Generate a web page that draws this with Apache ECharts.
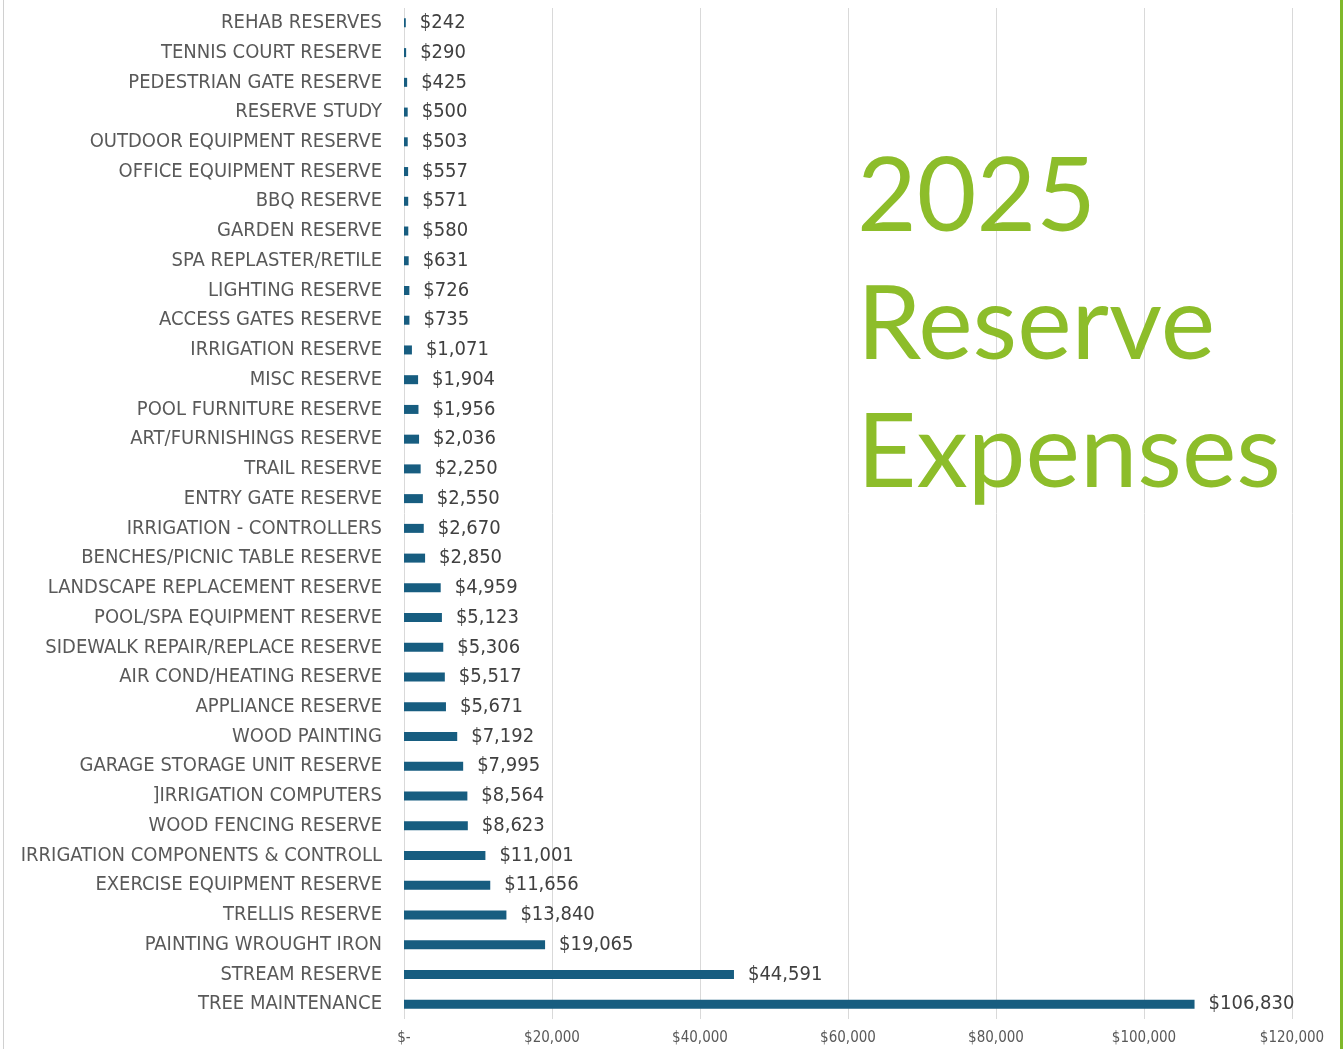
<!DOCTYPE html>
<html><head><meta charset="utf-8">
<script src="https://cdn.jsdelivr.net/npm/echarts@6/dist/echarts.min.js"></script>
<style>html,body{margin:0;padding:0;background:#fff}#c{width:1343px;height:1049px}</style>
</head><body><div id="c"></div>
<script>
const categories = ["REHAB RESERVES","TENNIS COURT RESERVE","PEDESTRIAN GATE RESERVE","RESERVE STUDY","OUTDOOR EQUIPMENT RESERVE","OFFICE EQUIPMENT RESERVE","BBQ RESERVE","GARDEN RESERVE","SPA REPLASTER/RETILE","LIGHTING RESERVE","ACCESS GATES RESERVE","IRRIGATION RESERVE","MISC RESERVE","POOL FURNITURE RESERVE","ART/FURNISHINGS RESERVE","TRAIL RESERVE","ENTRY GATE RESERVE","IRRIGATION - CONTROLLERS","BENCHES/PICNIC TABLE RESERVE","LANDSCAPE REPLACEMENT RESERVE","POOL/SPA EQUIPMENT RESERVE","SIDEWALK REPAIR/REPLACE RESERVE","AIR COND/HEATING RESERVE","APPLIANCE RESERVE","WOOD PAINTING","GARAGE STORAGE UNIT RESERVE","]IRRIGATION COMPUTERS","WOOD FENCING RESERVE","IRRIGATION COMPONENTS & CONTROLL","EXERCISE EQUIPMENT RESERVE","TRELLIS RESERVE","PAINTING WROUGHT IRON","STREAM RESERVE","TREE MAINTENANCE"];
const values = [242,290,425,500,503,557,571,580,631,726,735,1071,1904,1956,2036,2250,2550,2670,2850,4959,5123,5306,5517,5671,7192,7995,8564,8623,11001,11656,13840,19065,44591,106830];
const xTicks = [0,20000,40000,60000,80000,100000,120000];
const titleLines = ["2025","Reserve","Expenses"];

const fmt = v => '$' + v.toLocaleString('en-US');
const narrow = '"Liberation Sans Narrow","DejaVu Sans Condensed",sans-serif';
const chart = echarts.init(document.getElementById('c'));
chart.setOption({
  animation:false,
  grid:{left:404,right:51,top:8,bottom:30,containLabel:false},
  title:{text:titleLines.join('\n'),left:852,top:129,
    textStyle:{color:'#8dbd2a',fontFamily:'Lato, "Open Sans", sans-serif',fontSize:103,fontWeight:'normal',lineHeight:128}},
  xAxis:{type:'value',min:xTicks[0],max:xTicks[xTicks.length-1],interval:20000,
    axisLine:{show:false},axisTick:{show:false},
    splitLine:{lineStyle:{color:'#d9d9d9',width:1}},
    axisLabel:{color:'#595959',fontSize:15,fontFamily:narrow,margin:12,
      formatter:v=> v===0 ? '$-' : fmt(v)}},
  yAxis:{type:'category',data:categories,inverse:true,
    axisLine:{show:false},axisTick:{show:false},
    axisLabel:{color:'#595959',fontSize:20,fontFamily:narrow,margin:22}},
  series:[{type:'bar',data:values,barWidth:9,
    itemStyle:{color:'#175d80'},
    label:{show:true,position:'right',distance:14,color:'#404040',fontSize:20,
      fontFamily:narrow,formatter:p=>fmt(p.value)}}],
  graphic:[
    {type:'rect',shape:{x:3,y:0,width:1,height:1049},style:{fill:'#d0d0d0'}},
    {type:'rect',shape:{x:1340,y:0,width:3,height:1049},style:{fill:'#7fb82a'}}
  ]
});
</script></body></html>
